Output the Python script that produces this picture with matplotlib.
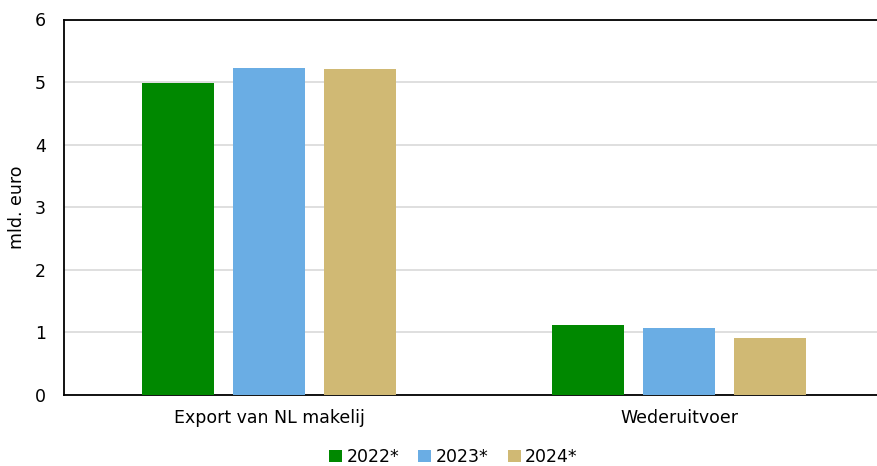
import matplotlib
matplotlib.use("Agg")
import matplotlib.pyplot as plt
import numpy as np

categories = ["Export van NL makelij", "Wederuitvoer"]
series = ["2022*", "2023*", "2024*"]
values_2022 = [4.98, 1.12]
values_2023 = [5.22, 1.07]
values_2024 = [5.21, 0.91]
colors = ["#008800", "#6aade4", "#d0b974"]

plt.rcParams['font.family'] = ['DejaVu Sans']
fig = plt.figure(figsize=(8.77, 4.66), dpi=100)
ax = fig.add_axes([64/877, 1-395/466, 1-64/877, (395-19.5)/466])

x = np.arange(len(categories))
w = 0.1756
off = 0.222
for i, (vals, lab, c) in enumerate(zip([values_2022, values_2023, values_2024], series, colors)):
    ax.bar(x + (i-1)*off, vals, width=w, color=c, label=lab, zorder=3)

ax.set_xlim(-0.5, 1.483)
ax.set_ylim(0, 6)
ax.set_yticks(range(0, 7))
ax.yaxis.grid(True, color="#d9d9d9", linewidth=1.2, zorder=0)
ax.set_axisbelow(True)
ax.set_xticks(x)
ax.set_xticklabels(categories)
fs = 12.5
ax.tick_params(axis='both', length=0, labelsize=fs)
ax.tick_params(axis='x', pad=10)
ax.tick_params(axis='y', pad=13)
for s in ['left', 'top', 'bottom']:
    ax.spines[s].set_color('black')
    ax.spines[s].set_linewidth(1.3)
ax.spines['right'].set_visible(False)
ax.set_ylabel("mld. euro", fontsize=fs, labelpad=6)

ax.legend(loc='center', bbox_to_anchor=(0.479, -0.165), ncol=3, frameon=False,
          fontsize=fs, handlelength=0.75, handleheight=0.75, handletextpad=0.25,
          columnspacing=1.1, borderpad=0)

fig.savefig("out.png", dpi=100)
